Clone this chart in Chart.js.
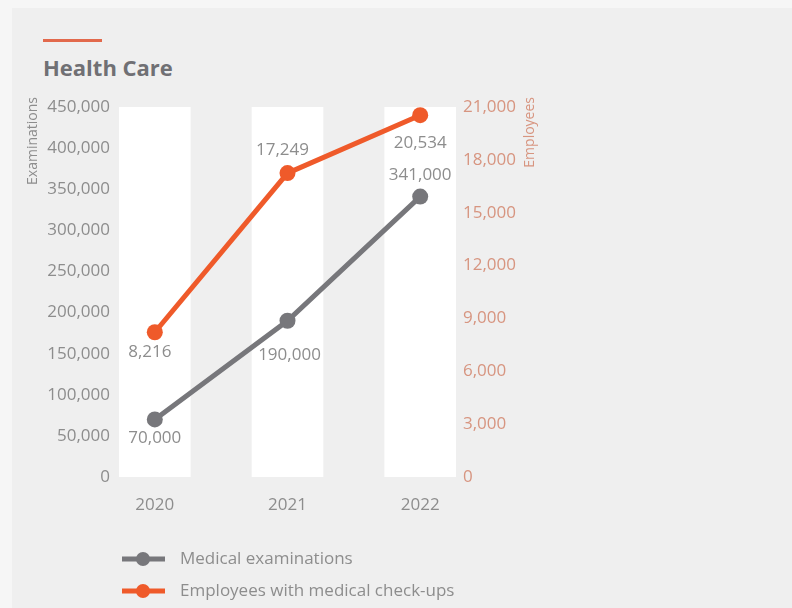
<!DOCTYPE html>
<html>
<head>
<meta charset="utf-8">
<title>Health Care</title>
<script src="https://cdn.jsdelivr.net/npm/chart.js@4.4.1/dist/chart.umd.min.js"></script>
<style>
  html, body { margin: 0; padding: 0; background: #f6f6f6; }
  #panel { position: absolute; left: 12px; top: 8px; width: 780px; height: 600px; background: #efefef; }
  #rule { position: absolute; left: 43px; top: 39px; width: 59px; height: 3px; background: #e2694c; }
  #title { position: absolute; left: 43px; top: 52px; font: bold 22px "Open Sans", sans-serif; color: #707074; }
  #myChart { position: absolute; left: 0; top: 0; }
</style>
</head>
<body>
<div id="panel"></div>
<div id="rule"></div>
<div id="title">Health Care</div>
<canvas id="myChart" width="792" height="608"></canvas>
<script>
const years = [2020, 2021, 2022];
const examinations = [70000, 190000, 341000];
const employees = [8216, 17249, 20534];

const examTicks = [0, 50000, 100000, 150000, 200000, 250000, 300000, 350000, 400000, 450000];
const employeeTicks = [0, 3000, 6000, 9000, 12000, 15000, 18000, 21000];

const grey = '#77777b';
const orange = '#ef5a2a';
const tickGrey = '#8d8d8d';
const tickSalmon = '#d79580';
const font = '"Open Sans", sans-serif';

// white column behind each year, full height of the left axis
const bandTop = examTicks[examTicks.length - 1];

const toPoints = (values) => years.map((yr, i) => ({ x: yr, y: values[i] }));

// number under/over each point, shifted per point so they don't collide
const pointLabels = {
  id: 'pointLabels',
  afterDatasetsDraw(chart) {
    const ctx = chart.ctx;
    ctx.save();
    ctx.font = '17px ' + font;
    ctx.fillStyle = tickGrey;
    ctx.textAlign = 'center';
    ctx.textBaseline = 'middle';
    chart.data.datasets.forEach((ds, i) => {
      if (!ds.labelShift) return;
      chart.getDatasetMeta(i).data.forEach((pt, j) => {
        const [dx, dy] = ds.labelShift[j];
        ctx.fillText(ds.data[j].y.toLocaleString('en-US'), pt.x + dx, pt.y + dy);
      });
    });
    ctx.restore();
  }
};

// rotated axis titles, both reading bottom-to-top
const axisTitles = {
  id: 'axisTitles',
  afterDraw(chart) {
    const ctx = chart.ctx;
    const top = chart.chartArea.top - 10;
    const draw = (text, x, color) => {
      ctx.save();
      ctx.translate(x, top);
      ctx.rotate(-Math.PI / 2);
      ctx.font = '14px ' + font;
      ctx.fillStyle = color;
      ctx.textAlign = 'right';
      ctx.textBaseline = 'middle';
      ctx.fillText(text, 0, 0);
      ctx.restore();
    };
    draw('Examinations', chart.scales.yL.left - 7, tickGrey);
    draw('Employees', chart.scales.yR.left + 70, tickSalmon);
  }
};

// legend stacked in two rows under the x axis
const stackedLegend = {
  id: 'stackedLegend',
  afterDraw(chart) {
    const ctx = chart.ctx;
    const x0 = chart.chartArea.left + 7;
    let y = chart.scales.x.bottom + 44;
    chart.data.datasets.forEach((ds) => {
      if (!ds.label) return;
      ctx.save();
      ctx.strokeStyle = ds.borderColor;
      ctx.fillStyle = ds.borderColor;
      ctx.lineWidth = 5;
      ctx.beginPath();
      ctx.moveTo(x0, y);
      ctx.lineTo(x0 + 43, y);
      ctx.stroke();
      ctx.beginPath();
      ctx.arc(x0 + 21, y, 7, 0, Math.PI * 2);
      ctx.fill();
      ctx.font = '17px ' + font;
      ctx.fillStyle = tickGrey;
      ctx.textBaseline = 'middle';
      ctx.fillText(ds.label, x0 + 58, y);
      ctx.restore();
      y += 32;
    });
  }
};

const data = {
  datasets: [
    {
      type: 'line',
      label: 'Medical examinations',
      data: toPoints(examinations),
      yAxisID: 'yL',
      borderColor: grey,
      backgroundColor: grey,
      borderWidth: 5,
      pointRadius: 8,
      pointBorderWidth: 0,
      pointBackgroundColor: grey,
      labelShift: [[0, 19], [2, 34], [0, -21]],
      order: 2
    },
    {
      type: 'line',
      label: 'Employees with medical check-ups',
      data: toPoints(employees),
      yAxisID: 'yR',
      borderColor: orange,
      backgroundColor: orange,
      borderWidth: 5,
      pointRadius: 8,
      pointBorderWidth: 0,
      pointBackgroundColor: orange,
      labelShift: [[-5, 20], [-5, -23], [0, 28]],
      order: 1
    },
    {
      type: 'bar',
      data: years.map((yr) => ({ x: yr, y: bandTop })),
      yAxisID: 'yL',
      backgroundColor: '#ffffff',
      borderWidth: 0,
      barThickness: 71,
      order: 3
    }
  ]
};

const config = {
  type: 'line',
  data,
  options: {
    responsive: false,
    animation: false,
    layout: { padding: { left: 40, right: 257, top: 107, bottom: 93 } },
    plugins: {
      legend: { display: false },
      tooltip: { enabled: false }
    },
    scales: {
      x: {
        type: 'linear',
        min: 2019.7,
        max: 2022.3,
        offset: false,
        grid: { display: false, drawTicks: false },
        border: { display: false },
        afterBuildTicks: (scale) => { scale.ticks = years.map((v) => ({ value: v })); },
        afterFit: (scale) => { scale.height = 38; },
        ticks: {
          padding: 18,
          color: tickGrey,
          font: { family: font, size: 17 },
          callback: (v) => String(v)
        }
      },
      yL: {
        position: 'left',
        min: 0,
        max: bandTop,
        grid: { display: false, drawTicks: false },
        border: { display: false },
        afterBuildTicks: (scale) => { scale.ticks = examTicks.map((v) => ({ value: v })); },
        afterFit: (scale) => { scale.width = 75; },
        ticks: {
          padding: 5,
          color: tickGrey,
          font: { family: font, size: 17 },
          callback: (v) => v.toLocaleString('en-US')
        }
      },
      yR: {
        position: 'right',
        min: 0,
        max: employeeTicks[employeeTicks.length - 1],
        grid: { display: false, drawTicks: false },
        border: { display: false },
        afterBuildTicks: (scale) => { scale.ticks = employeeTicks.map((v) => ({ value: v })); },
        afterFit: (scale) => { scale.width = 75; },
        ticks: {
          padding: 3,
          color: tickSalmon,
          font: { family: font, size: 17 },
          callback: (v) => v.toLocaleString('en-US')
        }
      }
    }
  },
  plugins: [pointLabels, axisTitles, stackedLegend]
};

var myChart = new Chart(document.getElementById('myChart'), config);
</script>
</body>
</html>
